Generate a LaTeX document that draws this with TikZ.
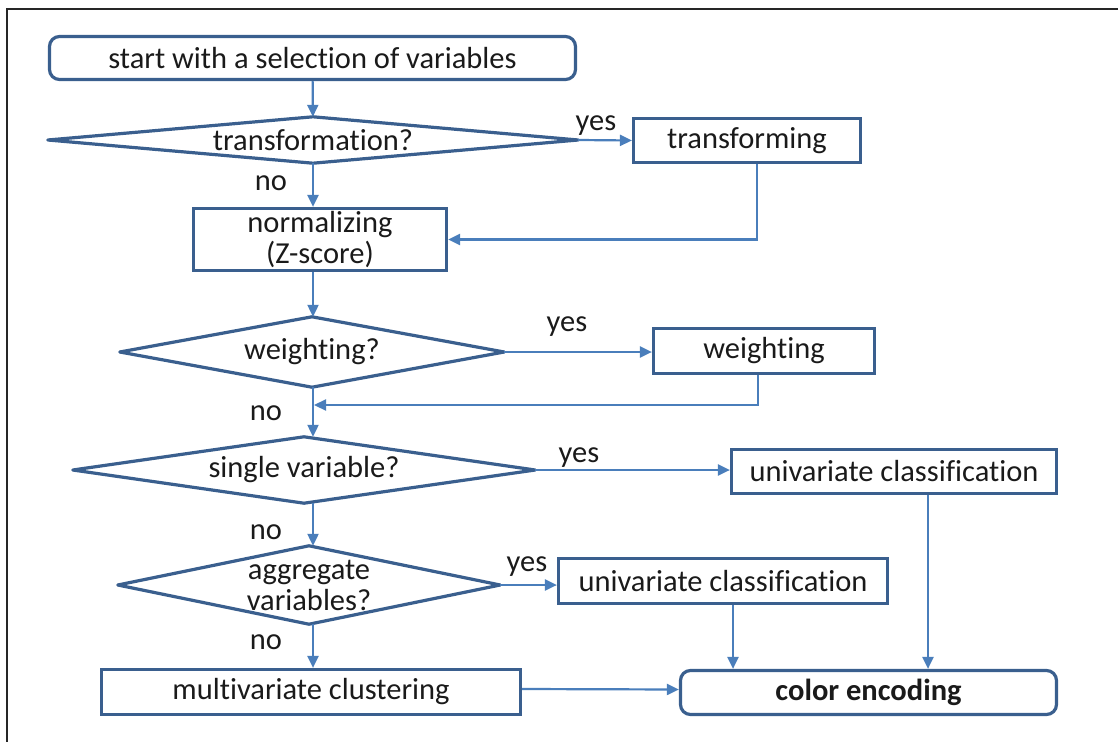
\documentclass[tikz,border=0pt]{standalone}
\usepackage{fontspec}
\setmainfont{Carlito}[Ligatures={NoCommon}]
\usetikzlibrary{arrows.meta}
\definecolor{boxblue}{HTML}{3A5F8E}
\definecolor{arrowblue}{HTML}{4A7EBB}
\definecolor{ink}{HTML}{1A1A1A}
\begin{document}
\begin{tikzpicture}[x=1pt,y=-1pt,
  every node/.style={font=\fontsize{30.5}{31}\selectfont, text=ink},
  proc/.style={draw=boxblue, line width=3.2pt, inner sep=0pt, align=center},
  term/.style={proc, rounded corners=10pt},
  decision/.style={inner sep=0pt, align=center},
  outline/.style={draw=boxblue, line width=3.2pt, line join=round},
  arr/.style={draw=arrowblue, line width=2.2pt, -{Triangle[length=12pt,width=11pt]}},
  lbl/.style={inner sep=0pt}]
\useasboundingbox (0,0) rectangle (1118,741);
% page frame
\draw[line width=2pt, black!85] (7,745) -- (7,9) -- (1122,9);

% process steps
\node[term, minimum width=526pt, minimum height=43pt] (start) at (312.5,58) {start with a selection of variables};
\node[decision, minimum width=530pt, minimum height=46pt] (tq) at (313,140) {transformation?};
\node[proc, minimum width=227pt, minimum height=44pt] (tr) at (747,140.5) {transforming};
\node[proc, minimum width=253pt, minimum height=62pt] (norm) at (320,239.5) {normalizing\\(Z-score)};
\node[decision, minimum width=384pt, minimum height=70pt] (wq) at (312,352) {weighting?};
\node[proc, minimum width=221pt, minimum height=45pt] (wb) at (764,351) {weighting};
\node[decision, minimum width=462pt, minimum height=66pt] (sq) at (304,470) {single variable?};
\node[proc, minimum width=325pt, minimum height=44pt] (u1) at (894,471.5) {univariate classification};
\node[decision, minimum width=382pt, minimum height=78pt] (aq) at (309,585) {aggregate\\variables?};
\node[proc, minimum width=329pt, minimum height=45pt] (u2) at (723,581) {univariate classification};
\node[proc, minimum width=419pt, minimum height=45pt] (mv) at (311,692) {multivariate clustering};
\node[term, minimum width=376pt, minimum height=44pt, font=\fontsize{30.5}{31}\selectfont\bfseries] (ce) at (868.5,692.5) {color encoding};

% decision outlines
\foreach \d in {tq,wq,sq,aq}
  \draw[outline] (\d.west) -- (\d.north) -- (\d.east) -- (\d.south) -- cycle;

% main vertical line and merge point
\coordinate (spine) at (313,0);
\coordinate (join) at (313,405);

% connectors
\draw[arr] (start) -- (tq);
\draw[arr] (tq.east) -- (tr.west);
\draw[arr] (tq.south) -- (tq.south |- norm.north);
\draw[arr] ([xshift=10pt]tr.south) |- (norm.east);
\draw[arr] (spine |- norm.south) -- (spine |- wq.north);
\draw[arr] (wq.east) -- (wq.east -| wb.west);
\draw[arr] ([xshift=-6pt]wb.south) |- ([xshift=1pt]join);
\draw[arr] (spine |- wq.south) -- (spine |- sq.north);
\draw[arr] (sq.east) -- (sq.east -| u1.west);
\draw[arr] (spine |- sq.south) -- (spine |- aq.north);
\draw[arr] (aq.east) -- (aq.east -| u2.west);
\draw[arr] (spine |- aq.south) -- (spine |- mv.north);
\draw[arr] ([xshift=34pt]u1.south) -- ([xshift=34pt]u1.south |- ce.north);
\draw[arr] ([xshift=10pt]u2.south) -- ([xshift=10pt]u2.south |- ce.north);
\draw[arr] ([yshift=3pt]mv.east) -- ([yshift=3pt]ce.west);

% branch labels
\node[lbl] (y1) at (596,126) {yes};
\node[lbl] (n1) at (271,183) {no};
\node[lbl] (y2) at (567,327) {yes};
\node[lbl] (n2) at (266,413) {no};
\node[lbl] (y3) at (579,458) {yes};
\node[lbl] (n3) at (266,532) {no};
\node[lbl] (y4) at (527,567) {yes};
\node[lbl] (n4) at (266,642) {no};
\end{tikzpicture}
\end{document}
